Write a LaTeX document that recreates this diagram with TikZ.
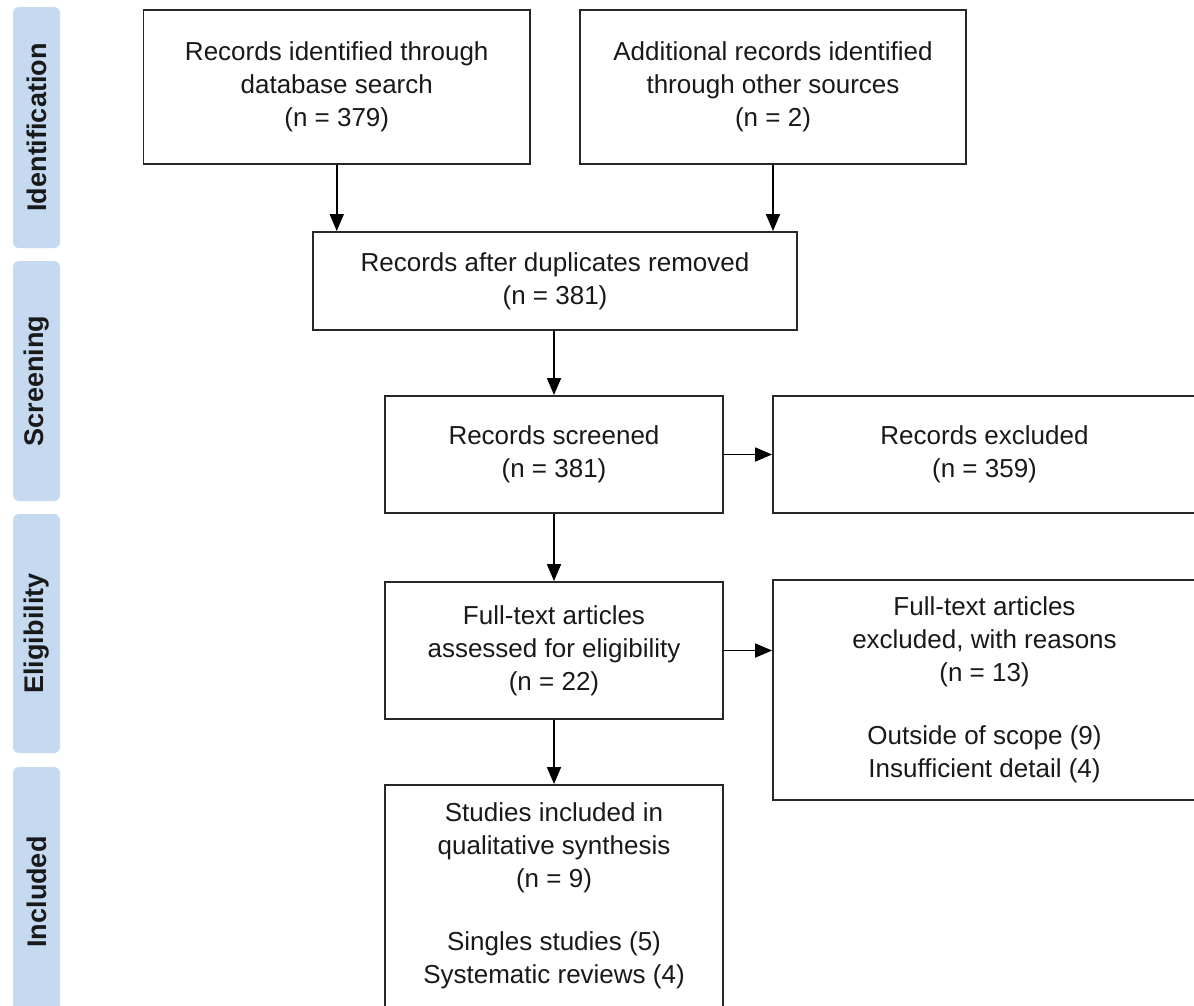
\documentclass[tikz,border=0pt]{standalone}
\usepackage{fontspec}
\setmainfont{Liberation Sans}
\usetikzlibrary{arrows.meta}
\definecolor{phasefill}{RGB}{197,217,240}
\definecolor{boxline}{RGB}{40,40,40}
\definecolor{textcol}{RGB}{25,25,25}
\begin{document}
\begin{tikzpicture}[x=1pt,y=-1pt,
  flowbox/.style={draw=boxline, line width=1.9pt, rectangle, align=center, inner sep=0pt,
    font=\fontsize{26pt}{33pt}\selectfont, text=textcol},
  phase/.style={fill=phasefill, rounded corners=6pt, rotate=90, inner sep=0pt,
    minimum height=47pt, font=\bfseries\fontsize{27pt}{30pt}\selectfont, text=textcol},
  arr/.style={draw=black, line width=1.8pt, -{Triangle[length=17pt,width=14pt]}}
]
\useasboundingbox (0,0) rectangle (1194,1005);
\fill[white] (0,0) rectangle (1194,1005);
\clip (0,0) rectangle (1194,1005);

% phase bars
\node[phase, minimum width=241pt] (pid) at (36.5,127.5) {Identification};
\node[phase, minimum width=240pt] (psc) at (36.5,381) {Screening};
\node[phase, minimum width=239pt] (pel) at (36.5,633.5) {Eligibility};
\node[phase, minimum width=250pt] (pin) at (36.5,892) {Included};

% boxes
\node[flowbox, minimum width=386.5pt, minimum height=154pt] (b1) at (336.75,87)
  {Records identified through\\database search\\(n = 379)};
\node[flowbox, minimum width=386pt, minimum height=154pt] (b2) at (773,87)
  {Additional records identified\\through other sources\\(n = 2)};
\node[flowbox, minimum width=484pt, minimum height=98pt] (b3) at (555,281)
  {Records after duplicates removed\\(n = 381)};
\node[flowbox, minimum width=338pt, minimum height=117pt] (b4) at (554,454.5)
  {Records screened\\(n = 381)};
\node[flowbox, minimum width=423pt, minimum height=117pt] (b5) at (984.5,454.5)
  {Records excluded\\(n = 359)};
\node[flowbox, minimum width=338pt, minimum height=137pt] (b6) at (554,650.5)
  {Full-text articles\\assessed for eligibility\\(n = 22)};
\node[flowbox, minimum width=423pt, minimum height=220pt] (b7) at (984.5,690)
  {Full-text articles\\excluded, with reasons\\(n = 13)\\[30pt]Outside of scope (9)\\Insufficient detail (4)};
\node[flowbox, minimum width=338pt, minimum height=222pt] (b8) at (554,896)
  {Studies included in\\qualitative synthesis\\(n = 9)\\[30pt]Singles studies (5)\\Systematic reviews (4)};

% connectors
\draw[arr] (b1.south) -- (b1.south |- b3.north);
\draw[arr] (b2.south) -- (b2.south |- b3.north);
\draw[arr] (b4.north |- b3.south) -- (b4.north);
\draw[arr] (b4.south) -- (b6.north);
\draw[arr] (b6.south) -- (b8.north);
\draw[arr] (b4.east) -- (b5.west);
\draw[arr] (b6.east) -- (b6.east -| b7.west);
\end{tikzpicture}
\end{document}
